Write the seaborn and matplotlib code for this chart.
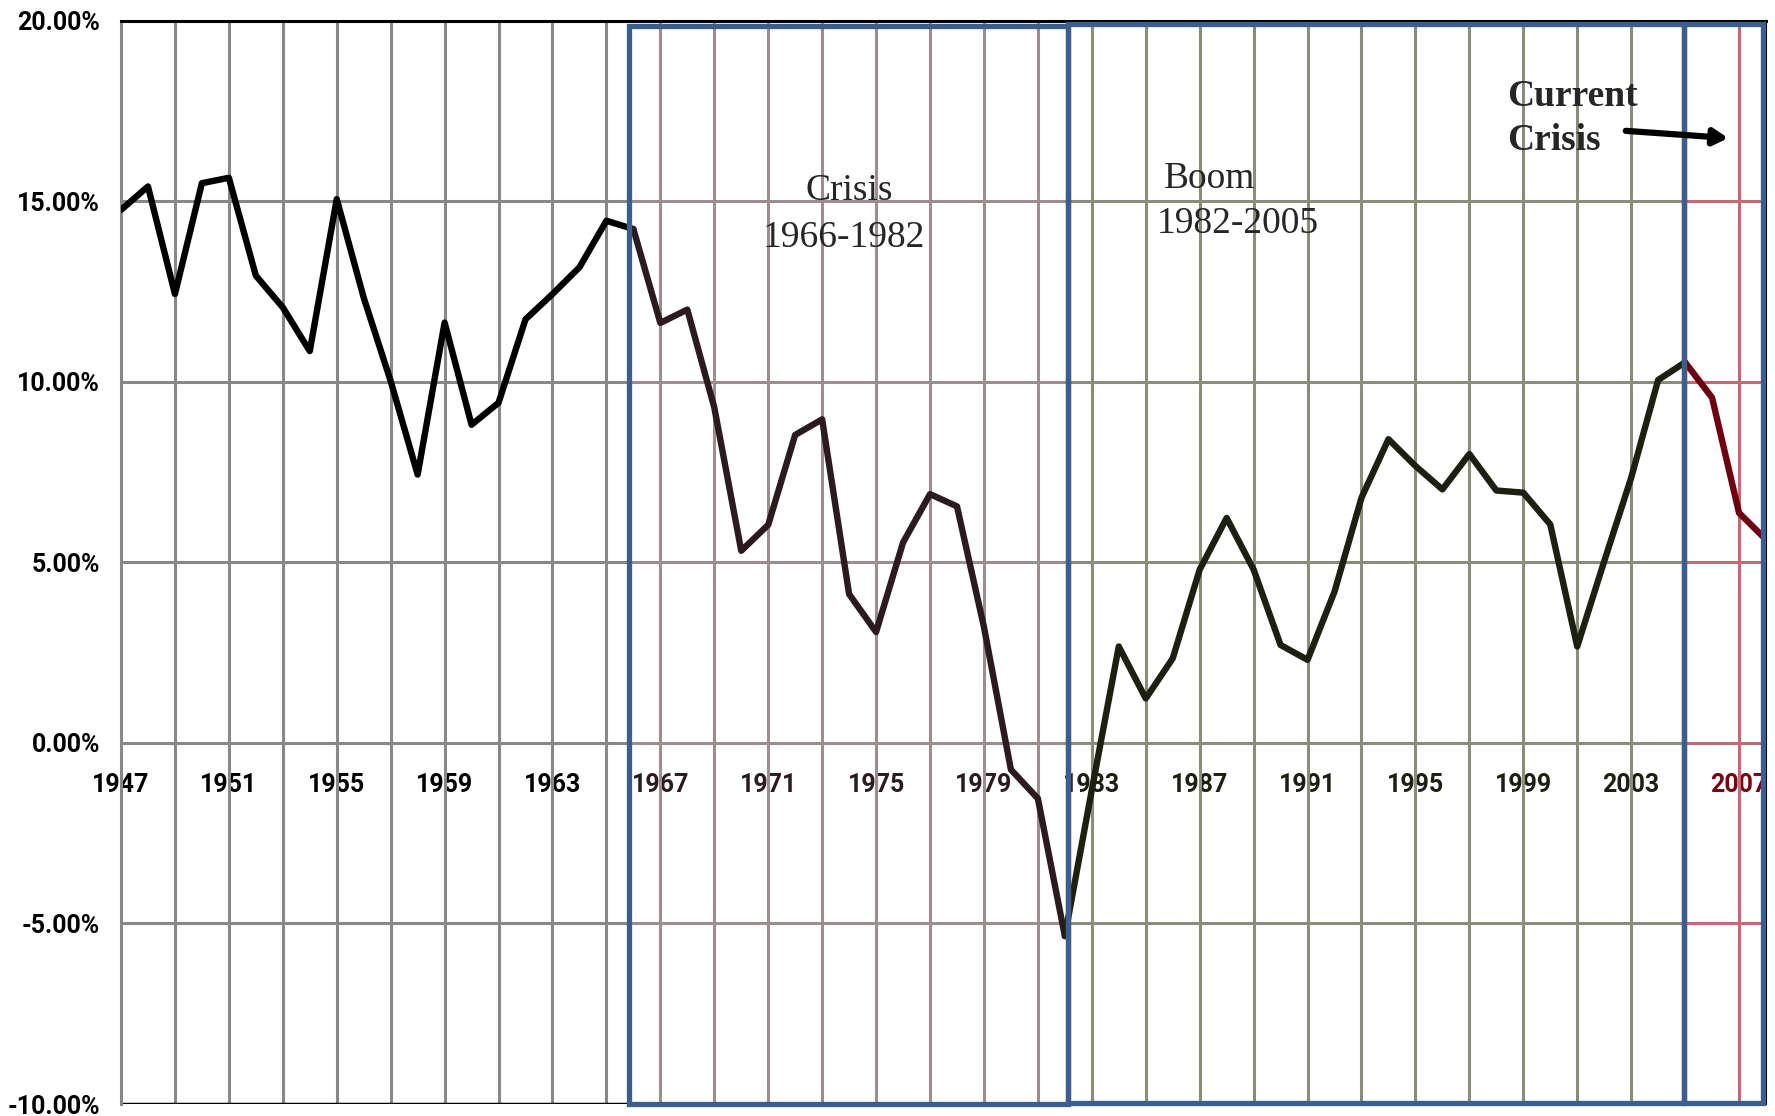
import numpy as np
import pandas as pd
import matplotlib
matplotlib.use("Agg")
import matplotlib.pyplot as plt
from matplotlib.patches import Rectangle
import seaborn as sns

# ---------------- data ----------------
years = list(range(1947, 2009))
profit_rate = [14.76, 15.41, 12.43, 15.50, 15.65, 12.94, 12.06, 10.85, 15.06, 12.33,
               10.02, 7.43, 11.64, 8.81, 9.42, 11.73, 12.43, 13.17, 14.46, 14.23,
               11.63, 12.00, 9.29, 5.32, 6.04, 8.53, 8.96, 4.12, 3.07, 5.55,
               6.89, 6.55, 3.21, -0.74, -1.54, -5.35, -1.30, 2.67, 1.23, 2.34,
               4.80, 6.23, 4.80, 2.71, 2.30, 4.19, 6.79, 8.41, 7.67, 7.02,
               8.00, 6.99, 6.93, 6.05, 2.67, 5.03, 7.34, 10.05, 10.54, 9.56,
               6.37, 5.63]

period_names = ["Postwar", "Crisis", "Boom", "Current Crisis"]
period_bounds = [1947, 1966, 1982, 2005, 2008]
box_edges = [1947, 1965.83, 1982.1, 2004.95, 2008]

line_colors = ["#000000", "#2b1a1e", "#1b2010", "#6e0010"]
grid_colors = ["#888888", "#9c8e8e", "#8b8d7b", "#c46a72"]
label_colors = ["#000000", "#2b1a1e", "#1b2010", "#7a0010"]
box_color = "#3b5e8c"

ytick_values = [-10, -5, 0, 5, 10, 15, 20]
xlabel_years = list(range(1947, 2008, 4))

# ---------------- build frame ----------------
rows = []
for i, name in enumerate(period_names):
    for y, v in zip(years, profit_rate):
        if period_bounds[i] <= y <= period_bounds[i + 1]:
            rows.append({"year": y, "rate": v, "period": name})
df = pd.DataFrame(rows)


def region_of(x):
    for i in range(4):
        if x < box_edges[i + 1]:
            return i
    return 3


sns.set_theme(style="white")
plt.rcParams["font.family"] = ["Roboto", "DejaVu Sans"]

fig = plt.figure(figsize=(17.75, 11.16), dpi=100)
ax = fig.add_axes([0.06817, 0.01075, 0.92676, 0.97070])
ax.set_xlim(1947, 2008)
ax.set_ylim(-10, 20)

# gridlines per region
for yv in ytick_values[1:-1]:
    for i in range(4):
        ax.hlines(yv, box_edges[i], box_edges[i + 1], color=grid_colors[i],
                  lw=2.2, zorder=1)
for yr in range(1949, 2008, 2):
    ax.vlines(yr, -10, 20, color=grid_colors[region_of(yr)], lw=2.2, zorder=1)

# data line
sns.lineplot(data=df, x="year", y="rate", hue="period", hue_order=period_names,
             palette=dict(zip(period_names, line_colors)), linewidth=4.6,
             legend=False, sort=False, estimator=None, ax=ax, zorder=3)

# spines
ax.spines["top"].set_color("black")
ax.spines["top"].set_linewidth(2.2)
ax.spines["right"].set_color("black")
ax.spines["right"].set_linewidth(1.5)
ax.spines["left"].set_color(grid_colors[0])
ax.spines["left"].set_linewidth(2.2)
ax.spines["bottom"].set_position(("data", 0))
ax.spines["bottom"].set_visible(False)
ax.axhline(-10, color="black", lw=2.5, zorder=2)

tick_font = dict(family=["Roboto", "DejaVu Sans"], weight="bold", size=18)

# y ticks
ax.set_yticks(ytick_values)
ax.set_yticklabels([f"{v:.2f}%" for v in ytick_values], fontdict=tick_font)
ax.tick_params(axis="y", length=8, width=2.2, color=grid_colors[0], pad=7,
               labelcolor="black")

# x ticks
ax.set_xticks(xlabel_years)
ax.set_xticklabels([str(y) for y in xlabel_years], fontdict=tick_font)
ax.tick_params(axis="x", which="major", length=0, pad=22)
minor_years = list(range(1948, 2008, 2))
ax.set_xticks(minor_years, minor=True)
ax.tick_params(axis="x", which="minor", length=6, width=1.8, direction="out")
for tick, yr in zip(ax.xaxis.get_minor_ticks(), minor_years):
    tick.tick1line.set_color(grid_colors[region_of(yr)])
for lab, yr in zip(ax.get_xticklabels(), xlabel_years):
    lab.set_color(label_colors[region_of(yr)])
ax.set_xlabel("")
ax.set_ylabel("")

# blue boxes
boxes = [(box_edges[1], -10.0, box_edges[2], 19.85),
         (box_edges[2], -9.97, box_edges[3], 19.92),
         (box_edges[3], -9.97, 2007.88, 19.92)]
for x0, y0, x1, y1 in boxes:
    ax.add_patch(Rectangle((x0, y0), x1 - x0, y1 - y0, fill=False,
                           edgecolor=box_color, lw=3.8, zorder=6, clip_on=False))

# annotations
serif = ["Liberation Serif", "DejaVu Serif"]
ax.text(1973.99, 15.04, "Crisis", ha="center", va="baseline", family=serif, fontsize=27, zorder=7)
ax.text(1973.8, 13.74, "1966-1982", ha="center", va="baseline", family=serif, fontsize=27, zorder=7)
ax.text(1985.67, 15.37, "Boom", ha="left", va="baseline", family=serif, fontsize=27, zorder=7)
ax.text(1985.42, 14.12, "1982-2005", ha="left", va="baseline", family=serif, fontsize=27, zorder=7)
ax.text(1998.41, 17.64, "Current", ha="left", va="baseline", family=serif,
        fontsize=27, fontweight="bold", zorder=7)
ax.text(1998.41, 16.42, "Crisis", ha="left", va="baseline", family=serif,
        fontsize=27, fontweight="bold", zorder=7)
ax.annotate("", xy=(2006.6, 16.75), xytext=(2002.8, 16.95),
            arrowprops=dict(arrowstyle="-|>,head_length=0.7,head_width=0.4",
                            lw=4.5, color="black", shrinkA=0, shrinkB=0),
            zorder=8)

fig.savefig("out.png", dpi=100)
